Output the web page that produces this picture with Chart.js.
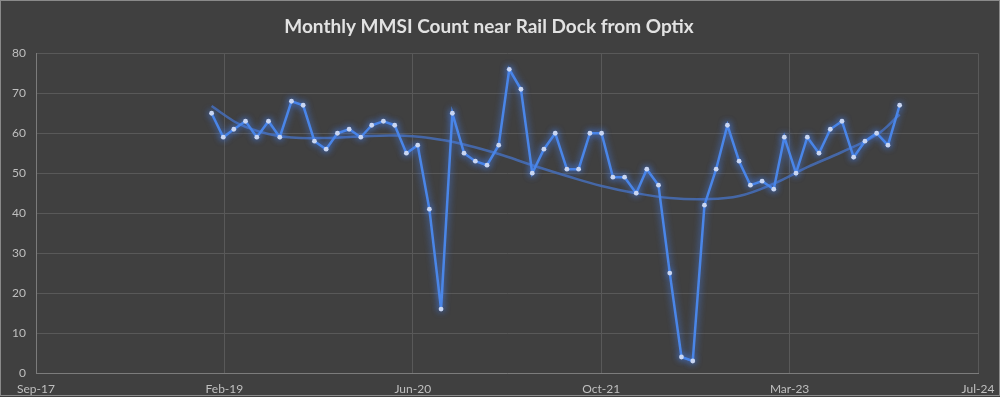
<!DOCTYPE html>
<html>
<head>
<meta charset="utf-8">
<script src="https://cdn.jsdelivr.net/npm/chart.js@4.4.1/dist/chart.umd.min.js"></script>
<style>
  html, body { margin: 0; padding: 0; background: #404040; }
  #wrap { width: 1000px; height: 397px; }
</style>
</head>
<body>
<div id="wrap"><canvas id="mmsi-chart"></canvas></div>
<script>
// monthly counts, first value is Jan 2019
const firstMonth = [2019, 0];
const mmsiCounts = [
  65, 59, 61, 63, 59, 63, 59, 68, 67, 58, 56, 60,   // 2019
  61, 59, 62, 63, 62, 55, 57, 41, 16, 65, 55, 53,   // 2020
  52, 57, 76, 71, 50, 56, 60, 51, 51, 60, 60, 49,   // 2021
  49, 45, 51, 47, 25, 4, 3, 42, 51, 62, 53, 47,     // 2022
  48, 46, 59, 50, 59, 55, 61, 63, 54, 58, 60, 57,   // 2023
  67                                                // Jan 2024
];

// trend line (month index from Jan 2019)
const trendMonths = [0, 2, 3, 5, 7, 10, 13, 16, 19, 22, 25, 28, 31, 34, 37, 40, 43, 46, 49, 52, 55, 58, 60];
const trendValues = [66.8, 63.0, 61.6, 59.8, 58.9, 58.8, 59.2, 59.4, 58.8, 57.2, 54.8, 52.0, 49.3, 46.8, 45.0, 43.8, 43.5, 44.3, 47.4, 51.5, 55.3, 59.6, 64.7];

// x axis: Excel date axis, major unit 500 days
const xTickLabels = ["Sep-17", "Feb-19", "Jun-20", "Oct-21", "Mar-23", "Jul-24"];
const yTickValues = [0, 10, 20, 30, 40, 50, 60, 70, 80];

const DAY = 86400000;
const axisStart = Date.UTC(2017, 8, 22) / DAY;
const tickStep = 500;

function monthDay(i) {
  return Date.UTC(firstMonth[0], firstMonth[1] + i, 1) / DAY;
}

const countPoints = mmsiCounts.map((v, i) => ({ x: monthDay(i), y: v }));
const trendPoints = trendValues.map((v, i) => ({ x: monthDay(trendMonths[i]), y: v }));

const frame = {
  id: "frame",
  beforeDraw(chart) {
    const ctx = chart.ctx;
    ctx.save();
    ctx.fillStyle = "#404040";
    ctx.fillRect(0, 0, chart.width, chart.height);
    ctx.restore();
  },
  afterDraw(chart) {
    const ctx = chart.ctx;
    ctx.save();
    ctx.strokeStyle = "#8a8a8a";
    ctx.lineWidth = 1;
    ctx.strokeRect(0.5, 0.5, chart.width - 1, chart.height - 2);
    ctx.restore();
  }
};

// soft glow on the main series
const glow = {
  id: "glow",
  beforeDatasetDraw(chart, args) {
    const ctx = chart.ctx;
    ctx.save();
    if (args.index === 0) {
      ctx.shadowColor = "rgba(70, 130, 245, 0.95)";
      ctx.shadowBlur = 7;
    }
  },
  afterDatasetDraw(chart) {
    chart.ctx.restore();
  }
};

new Chart(document.getElementById("mmsi-chart"), {
  type: "line",
  data: {
    datasets: [
      {
        label: "MMSI count",
        data: countPoints,
        borderColor: "#4a86e8",
        borderWidth: 2.5,
        pointRadius: 2.4,
        pointBorderWidth: 0,
        pointBackgroundColor: "#c9d6f2",
        tension: 0
      },
      {
        label: "Trend",
        data: trendPoints,
        borderColor: "rgba(70, 110, 185, 0.85)",
        borderWidth: 2.5,
        pointRadius: 0,
        tension: 0.4
      }
    ]
  },
  options: {
    responsive: true,
    maintainAspectRatio: false,
    animation: false,
    layout: { padding: { left: 0, right: 22, top: 0, bottom: 0 } },
    plugins: {
      legend: { display: false },
      tooltip: { enabled: false },
      title: {
        display: true,
        text: "Monthly MMSI Count near Rail Dock from Optix",
        color: "#e2e2e2",
        font: { family: "Lato", size: 19, weight: "bold" },
        padding: { top: 15, bottom: 15.5 }
      }
    },
    scales: {
      x: {
        type: "linear",
        min: axisStart,
        max: axisStart + tickStep * (xTickLabels.length - 1),
        afterBuildTicks(scale) {
          scale.ticks = xTickLabels.map((t, i) => ({ value: axisStart + i * tickStep }));
        },
        afterFit(scale) {
          scale.height = 24;
          scale.paddingLeft = 0;
          scale.paddingRight = 0;
        },
        ticks: {
          autoSkip: false,
          maxRotation: 0,
          color: "#bfbfbf",
          font: { family: "Lato", size: 12 },
          padding: 9,
          callback: (v, i) => xTickLabels[i]
        },
        grid: { color: "#595959", lineWidth: 1, drawTicks: false },
        border: { color: "#7c7c7c", width: 1 }
      },
      y: {
        min: 0,
        max: 80,
        afterBuildTicks(scale) {
          scale.ticks = yTickValues.map(v => ({ value: v }));
        },
        afterFit(scale) { scale.width = 36; },
        ticks: {
          color: "#bfbfbf",
          font: { family: "Lato", size: 12 },
          padding: 10
        },
        grid: { color: "#595959", lineWidth: 1, drawTicks: false },
        border: { color: "#7c7c7c", width: 1 }
      }
    }
  },
  plugins: [frame, glow]
});
</script>
</body>
</html>
